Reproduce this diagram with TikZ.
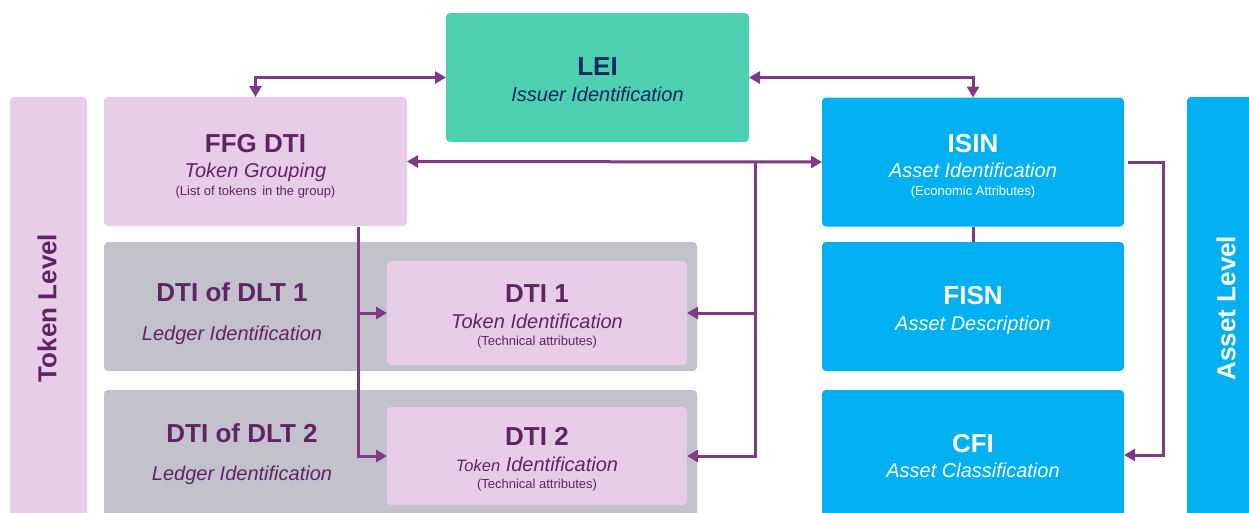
\documentclass[tikz,border=0pt]{standalone}
\usepackage{fontspec}
\setmainfont{Liberation Sans}
\usetikzlibrary{arrows.meta}
\definecolor{pinkbox}{HTML}{E8CDE8}
\definecolor{graybox}{HTML}{C3C1CB}
\definecolor{tealbox}{HTML}{4FCFB2}
\definecolor{bluebox}{HTML}{00B0F0}
\definecolor{purpletext}{HTML}{5E2464}
\definecolor{navytext}{HTML}{0E2A5C}
\definecolor{arrowcol}{HTML}{7E3A87}
\begin{document}
\begin{tikzpicture}[x=1pt,y=-1pt,
  box/.style={rectangle, rounded corners=4pt, draw=none, inner sep=0pt, outer sep=0pt},
  title/.style={font=\fontsize{26}{30}\selectfont\bfseries, anchor=base, inner sep=0pt},
  sub/.style={font=\fontsize{20}{24}\selectfont\itshape, anchor=base, inner sep=0pt},
  small/.style={font=\fontsize{13}{15}\selectfont, anchor=base, inner sep=0pt},
  conn/.style={draw=arrowcol, line width=3pt},
  arr/.style={conn, -{Triangle[length=11pt,width=12pt]}},
  biarr/.style={conn, {Triangle[length=11pt,width=12pt]}-{Triangle[length=11pt,width=12pt]}}
]
\useasboundingbox (0,0) rectangle (1249,512);
\clip (0,0) rectangle (1249,512);

% side bars
\node[box, fill=pinkbox, minimum width=77pt, minimum height=433pt] (tokbar) at (48.5,313.5) {};
\node[box, fill=bluebox, minimum width=83pt, minimum height=433pt] (assetbar) at (1228.5,313.5) {};
\node[rotate=90, font=\fontsize{26}{30}\selectfont\bfseries, text=purpletext, inner sep=0pt] (toklabel) at (47,308) {Token Level};
\node[rotate=90, font=\fontsize{26}{30}\selectfont\bfseries, text=white, inner sep=0pt] (assetlabel) at (1226,308) {Asset Level};

% boxes
\node[box, fill=tealbox, minimum width=303pt, minimum height=129pt] (lei) at (597.5,77.5) {};
\node[box, fill=pinkbox, minimum width=303pt, minimum height=129pt] (ffg) at (255.5,161.5) {};
\node[box, fill=bluebox, minimum width=302pt, minimum height=129pt] (isin) at (973,162) {};
\node[box, fill=bluebox, minimum width=302pt, minimum height=129pt] (fisn) at (973,306.5) {};
\node[box, fill=bluebox, minimum width=302pt, minimum height=140pt] (cfi) at (973,460) {};
\node[box, fill=graybox, minimum width=593pt, minimum height=129pt] (dlt1) at (400.5,306.5) {};
\node[box, fill=graybox, minimum width=593pt, minimum height=140pt] (dlt2) at (400.5,460) {};
\node[box, fill=pinkbox, minimum width=300pt, minimum height=104pt] (dti1) at (537,313) {};
\node[box, fill=pinkbox, minimum width=300pt, minimum height=98pt] (dti2) at (537,456) {};

% texts
\node[title, text=navytext] (leit) at (597.5,75) {LEI};
\node[sub, text=navytext] (leis) at (597.5,101) {Issuer Identification};

\node[title, text=purpletext] (ffgt) at (255.5,152) {FFG DTI};
\node[sub, text=purpletext] (ffgs) at (255.5,177) {Token Grouping};
\node[small, text=purpletext] (ffgn) at (255.5,195) {(List of tokens\, in the group)};

\node[title, text=white] (isint) at (973,152) {ISIN};
\node[sub, text=white] (isins) at (973,177) {Asset Identification};
\node[small, text=white] (isinn) at (973,195) {(Economic Attributes)};

\node[title, text=white] (fisnt) at (973,304) {FISN};
\node[sub, text=white] (fisns) at (973,330) {Asset Description};

\node[title, text=white] (cfit) at (973,452) {CFI};
\node[sub, text=white] (cfis) at (973,477) {Asset Classification};

\node[title, text=purpletext] (dlt1t) at (232,301) {DTI of DLT 1};
\node[sub, text=purpletext] (dlt1s) at (232,340) {Ledger Identification};
\node[title, text=purpletext] (dlt2t) at (242,442) {DTI of DLT 2};
\node[sub, text=purpletext] (dlt2s) at (242,480) {Ledger Identification};

\node[title, text=purpletext] (dti1t) at (537,302) {DTI 1};
\node[sub, text=purpletext] (dti1s) at (537,328) {Token Identification};
\node[small, text=purpletext] (dti1n) at (537,345) {(Technical attributes)};
\node[title, text=purpletext] (dti2t) at (537,445) {DTI 2};
\node[sub, text=purpletext] (dti2s) at (537,471) {{\fontsize{16.5}{20}\selectfont Token} Identification};
\node[small, text=purpletext] (dti2n) at (537,488) {(Technical attributes)};

% connectors
\draw[biarr] (lei.west) -| (ffg.north);
\draw[biarr] (lei.east) -| (isin.north);
\draw[biarr] (ffg.east) -- (isin.west);

\coordinate (trunk) at (755,162);
\draw[arr] (trunk) |- (dti1.east);
\draw[arr] (trunk) |- (dti2.east);

\coordinate (ffgdrop) at (358,226.5);
\draw[arr] (ffgdrop) |- (dti1.west);
\draw[arr] (ffgdrop) |- (dti2.west);

\draw[conn] (isin.south) -- (fisn.north);

\coordinate (isinout) at (1128,162);
\coordinate (cfiright) at (1163,455);
\coordinate (cfiin) at (1124,455);
\draw[arr] (isinout) -| (cfiright) -- (cfiin);
\end{tikzpicture}
\end{document}
